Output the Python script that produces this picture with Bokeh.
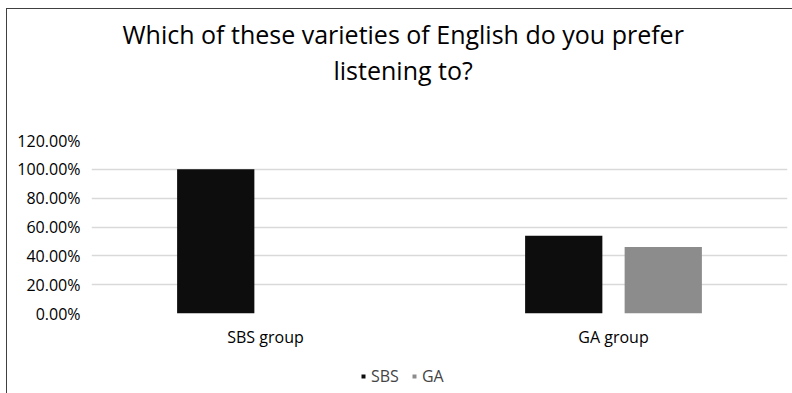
from bokeh.plotting import figure
from bokeh.layouts import column
from bokeh.models import ColumnDataSource, NumeralTickFormatter, FixedTicker, Legend, LegendItem, FactorRange, Title
from bokeh.transform import dodge
from bokeh.embed import file_html
from bokeh.resources import INLINE

categories = ["SBS group", "GA group"]
sbs_values = [1.0, 0.5385]
ga_values = [0.0, 0.4615]
y_ticks = [0.0, 0.2, 0.4, 0.6, 0.8, 1.0, 1.2]
title_line1 = "Which of these varieties of English do you prefer"
title_line2 = "listening to?"

FONT = "Open Sans"
SBS_COLOR = "#0d0d0d"
GA_COLOR = "#8c8c8c"

source = ColumnDataSource(data=dict(cat=categories, SBS=sbs_values, GA=ga_values))

p = figure(
    x_range=FactorRange(*categories),
    y_range=(0, 1.2),
    frame_width=695, frame_height=172,
    output_backend="svg", toolbar_location=None,
    min_border_left=84, min_border_right=7, min_border_bottom=50, min_border_top=131,
)
p.margin = (8, 0, 0, 6)
p.styles = {"border-left": "1px solid #404040", "border-top": "1px solid #404040"}

spacer = Title(text=" ", text_font_size="1px", standoff=51)
t2 = Title(text=title_line2, align="left", text_font=FONT, text_font_size="25px",
           text_font_style="normal", text_color="#000000", standoff=0, offset=242)
t1 = Title(text=title_line1, align="left", text_font=FONT, text_font_size="25px",
           text_font_style="normal", text_color="#000000", standoff=0, offset=31)
p.add_layout(spacer, "above")
p.add_layout(t2, "above")
p.add_layout(t1, "above")

p.vbar(x=dodge("cat", -0.143, range=p.x_range), top="SBS", width=0.222, source=source,
       fill_color=SBS_COLOR, line_color=None)
p.vbar(x=dodge("cat", 0.143, range=p.x_range), top="GA", width=0.222, source=source,
       fill_color=GA_COLOR, line_color=None)

p.outline_line_color = None
p.xgrid.grid_line_color = None
p.ygrid.grid_line_color = "#d9d9d9"
p.ygrid.grid_line_width = 1.5
p.yaxis.ticker = FixedTicker(ticks=y_ticks)
p.yaxis.formatter = NumeralTickFormatter(format="0.00%")
for ax in (p.xaxis, p.yaxis):
    ax.axis_line_color = None
    ax.major_tick_line_color = None
    ax.minor_tick_line_color = None
    ax.major_tick_out = 0
    ax.major_tick_in = 0
    ax.minor_tick_out = 0
    ax.major_label_text_font = FONT
    ax.major_label_text_font_size = "16px"
    ax.major_label_text_color = "#000000"
p.yaxis.major_label_standoff = 11
p.xaxis.major_label_standoff = 12

# legend strip below the chart
p2 = figure(
    x_range=FactorRange(*categories), y_range=(10, 11),
    width=786, height=31, output_backend="svg", toolbar_location=None,
    x_axis_location=None, y_axis_location=None,
    min_border_left=0, min_border_right=0, min_border_top=0, min_border_bottom=0,
)
p2.margin = (0, 0, 0, 6)
p2.styles = {"border-left": "1px solid #404040"}
p2.outline_line_color = None
p2.xgrid.grid_line_color = None
p2.ygrid.grid_line_color = None
lr1 = p2.scatter(x="cat", y="SBS", marker="square", size=10, source=source,
                 fill_color=SBS_COLOR, line_color=None)
lr2 = p2.scatter(x="cat", y="GA", marker="square", size=10, source=source,
                 fill_color=GA_COLOR, line_color=None)

legend = Legend(items=[LegendItem(label="SBS", renderers=[lr1]), LegendItem(label="GA", renderers=[lr2])],
                orientation="horizontal", location=(267, 6),
                label_text_font=FONT, label_text_font_size="16px",
                glyph_width=10, glyph_height=10, spacing=10, label_standoff=3,
                border_line_color=None, background_fill_alpha=0, padding=0, margin=0)
p2.add_layout(legend, "center")

layout = column(p, p2, spacing=0)
open("out.html", "w").write(file_html(layout, INLINE))
